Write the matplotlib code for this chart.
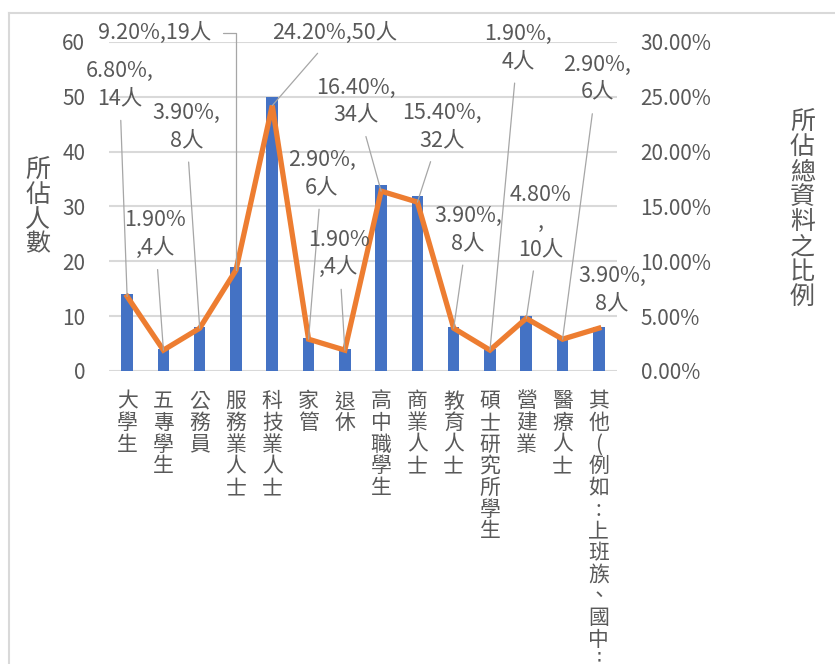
import matplotlib.pyplot as plt
from matplotlib.lines import Line2D

plt.rcParams['font.family'] = ['Noto Sans CJK TC', 'DejaVu Sans']

# data
categories = ['大學生', '五專學生', '公務員', '服務業人士', '科技業人士', '家管', '退休',
              '高中職學生', '商業人士', '教育人士', '碩士研究所學生', '營建業', '醫療人士',
              '其他(例如:上班族、國中⋮']
counts = [14, 4, 8, 19, 50, 6, 4, 34, 32, 8, 4, 10, 6, 8]
percents = [6.8, 1.9, 3.9, 9.2, 24.2, 2.9, 1.9, 16.4, 15.4, 3.9, 1.9, 4.8, 2.9, 3.9]
data_labels = ['6.80%,\n14人', '1.90%\n,4人', '3.90%,\n8人', '9.20%,19人', '24.20%,50人',
               '2.90%,\n6人', '1.90%\n,4人', '16.40%,\n34人', '15.40%,\n32人', '3.90%,\n8人',
               '1.90%,\n4人', '4.80%\n,\n10人', '2.90%,\n6人', '3.90%,\n8人']

# label positions (category units, percent units) - layout only
label_pos = [(-0.21, 26.1), (0.77, 12.5), (1.63, 22.3), (0.77, 30.8), (5.73, 30.8),
             (5.37, 18.0), (5.84, 10.7), (6.31, 24.6), (8.68, 22.3), (9.39, 12.9),
             (10.77, 29.5), (11.40, 13.6), (12.95, 26.7), (13.36, 7.4)]

text_c = '#595959'
grid_c = '#D9D9D9'
bar_c = '#4472C4'
line_c = '#ED7D31'

fig = plt.figure(figsize=(8.35, 6.64), dpi=100)
ax = fig.add_axes([0.1305, 0.4413, 0.6084, 0.4955])
ax2 = ax.twinx()

x = list(range(len(categories)))
ax.bar(x, counts, width=0.32, color=bar_c, zorder=2)
ax.set_ylim(0, 60)
ax.set_yticks(range(0, 61, 10))
ax.set_xlim(-0.5, len(categories) - 0.5)
ax.grid(axis='y', color=grid_c, linewidth=1.5, zorder=0)
ax.set_axisbelow(True)

ax2.plot(x, percents, color=line_c, linewidth=3.8, zorder=3, solid_joinstyle='miter')
ax2.set_ylim(0, 30)
ax2.set_yticks(range(0, 31, 5))
ax2.set_yticklabels([f'{v:.2f}%' for v in range(0, 31, 5)])

for a in (ax, ax2):
    for s in a.spines.values():
        s.set_visible(False)
    a.tick_params(length=0, labelsize=15, labelcolor=text_c, pad=17)

ax.set_xticks(x)
ax.set_xticklabels(['\n'.join(c) for c in categories], va='top', fontsize=15,
                   linespacing=0.98)
ax.tick_params(axis='x', pad=14)

for i, (lab, (tx, ty)) in enumerate(zip(data_labels, label_pos)):
    if i == len(categories) - 1:
        ax2.text(tx, ty, lab, ha='center', va='center', fontsize=15.5, color=text_c,
                 linespacing=1.3)
        continue
    conn = 'angle,angleA=0,angleB=90,rad=0' if i == 3 else 'arc3'
    ax2.annotate(lab, xy=(i, percents[i]), xytext=(tx, ty), ha='center', va='center',
                 fontsize=15.5, color=text_c, linespacing=1.3, zorder=4,
                 arrowprops=dict(arrowstyle='-', color='#A6A6A6', lw=0.9,
                                 shrinkA=6, shrinkB=0, connectionstyle=conn))

fig.text(0.045, 0.688, '\n'.join('所佔人數'), ha='center', va='center', fontsize=18,
         color=text_c, linespacing=0.95)
fig.text(0.961, 0.684, '\n'.join('所佔總資料之比例'), ha='center', va='center', fontsize=18,
         color=text_c, linespacing=0.95)

# chart area border
fig.add_artist(Line2D([9 / 835, 1], [1 - 13 / 664, 1 - 13 / 664], color=grid_c, lw=1.5,
                      transform=fig.transFigure))
fig.add_artist(Line2D([9 / 835, 9 / 835], [0, 1 - 13 / 664], color=grid_c, lw=1.5,
                      transform=fig.transFigure))

fig.savefig('out.png', dpi=100)
